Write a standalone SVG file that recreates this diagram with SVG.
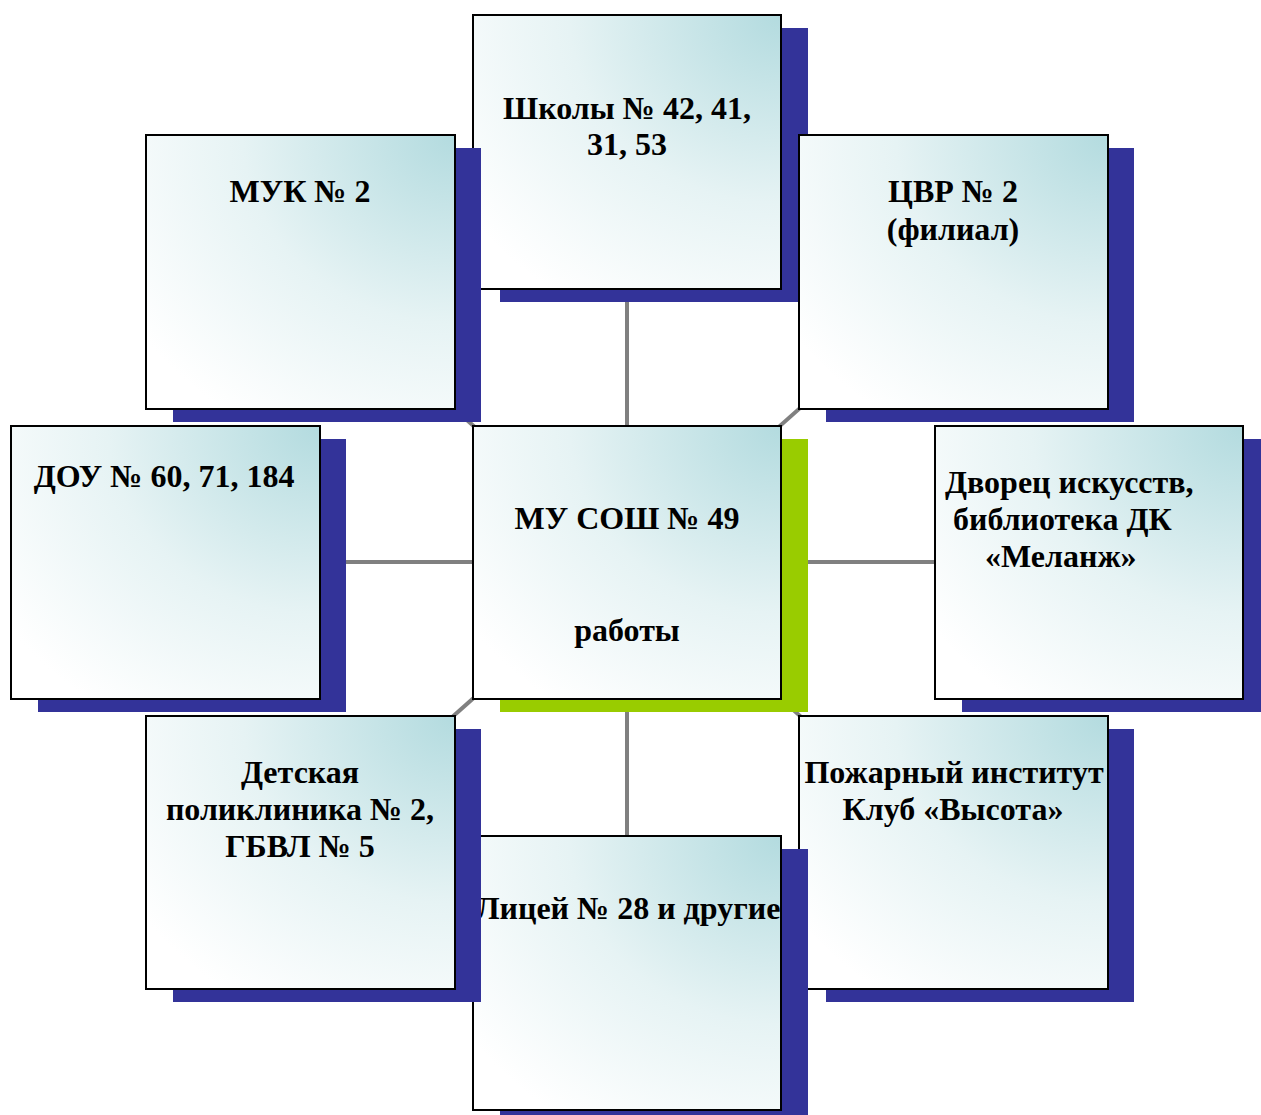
<svg xmlns="http://www.w3.org/2000/svg" width="1261" height="1115" viewBox="0 0 1261 1115">
<style>
.box{stroke:#000;stroke-width:2;fill:url(#g)}
.sh{fill:#333399}
.shg{fill:#99cc00}
.t{font-family:"Liberation Serif","Times New Roman",serif;font-weight:bold;font-size:32px;fill:#000;text-anchor:middle}
.ts{text-anchor:start}
.c{stroke:#808080;stroke-width:4;fill:none}
</style>
<defs>
<radialGradient id="g" cx="1" cy="0" r="1.25" fx="1" fy="0">
<stop offset="0" stop-color="#b3dbdf"/>
<stop offset="0.55" stop-color="#e6f3f4"/>
<stop offset="1" stop-color="#ffffff"/>
</radialGradient>
</defs>
<rect width="1261" height="1115" fill="#fff"/>
<g id="connectors">
<line class="c" x1="627" y1="562" x2="627" y2="152"/>
<line class="c" x1="627" y1="562" x2="627" y2="973"/>
<line class="c" x1="627" y1="562" x2="165" y2="562"/>
<line class="c" x1="627" y1="562" x2="1089" y2="562"/>
<line class="c" x1="627" y1="562" x2="300" y2="272"/>
<line class="c" x1="627" y1="562" x2="953" y2="272"/>
<line class="c" x1="627" y1="562" x2="300" y2="852"/>
<line class="c" x1="627" y1="562" x2="953" y2="852"/>
</g>
<g id="n_top">
<rect class="sh" x="500" y="28" width="308" height="274"/>
<rect class="box" x="473" y="15" width="308" height="274"/>
<text class="t" x="627" y="119">Школы № 42, 41,</text>
<text class="t" x="627" y="155">31, 53</text>
</g>
<g id="n_muk">
<rect class="sh" x="173" y="148" width="308" height="274"/>
<rect class="box" x="146" y="135" width="309" height="274"/>
<text class="t" x="300" y="202">МУК № 2</text>
</g>
<g id="n_cvr">
<rect class="sh" x="826" y="148" width="308" height="274"/>
<rect class="box" x="799" y="135" width="309" height="274"/>
<text class="t" x="953" y="202">ЦВР № 2</text>
<text class="t" x="953" y="240">(филиал)</text>
</g>
<g id="n_dou">
<rect class="sh" x="38" y="439" width="308" height="273"/>
<rect class="box" x="11" y="426" width="309" height="273"/>
<text class="t" x="164" y="487">ДОУ № 60, 71, 184</text>
</g>
<g id="n_center">
<rect class="shg" x="500" y="439" width="308" height="273"/>
<rect class="box" x="473" y="426" width="308" height="273"/>
<text class="t" x="627" y="529">МУ СОШ № 49</text>
<text class="t" x="627" y="641">работы</text>
</g>
<g id="n_dvorec">
<rect class="sh" x="962" y="439" width="299" height="273"/>
<rect class="box" x="935" y="426" width="308" height="273"/>
<text class="t ts" x="945" y="493">Дворец искусств,</text>
<text class="t ts" x="953" y="530">библиотека ДК</text>
<text class="t ts" x="985" y="567">«Меланж»</text>
</g>
<g id="n_pozh">
<rect class="sh" x="826" y="729" width="308" height="273"/>
<rect class="box" x="799" y="716" width="309" height="273"/>
<text class="t" x="954" y="783">Пожарный институт</text>
<text class="t" x="953" y="820">Клуб «Высота»</text>
</g>
<g id="n_licey">
<rect class="sh" x="500" y="849" width="308" height="266"/>
<rect class="box" x="473" y="836" width="308" height="274"/>
<text class="t" x="628" y="919">Лицей № 28 и другие</text>
</g>
<g id="n_det">
<rect class="sh" x="173" y="729" width="308" height="273"/>
<rect class="box" x="146" y="716" width="309" height="273"/>
<text class="t" x="300" y="783">Детская</text>
<text class="t" x="300" y="820">поликлиника № 2,</text>
<text class="t" x="300" y="857">ГБВЛ № 5</text>
</g>
</svg>
